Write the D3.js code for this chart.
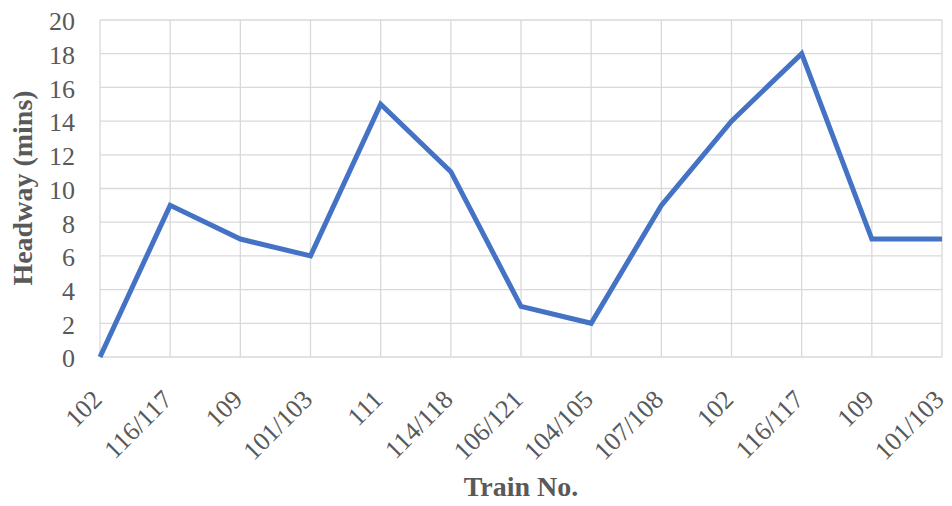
<!DOCTYPE html>
<html>
<head>
<meta charset="utf-8">
<script src="https://cdn.jsdelivr.net/npm/d3@7"></script>
<style>
  html, body { margin: 0; padding: 0; background: #fff; }
  svg { display: block; }
</style>
</head>
<body>
<svg id="chart" width="952" height="506"></svg>
<script>
// Train sequence and the headway before each train
const trains = ["102", "116/117", "109", "101/103", "111", "114/118", "106/121",
                "104/105", "107/108", "102", "116/117", "109", "101/103"];
const headways = [0, 9, 7, 6, 15, 11, 3, 2, 9, 14, 18, 7, 7];
const yTicks = [0, 2, 4, 6, 8, 10, 12, 14, 16, 18, 20];

const svg = d3.select("#chart");
const plotLeft = 100, plotRight = 942, plotTop = 20, plotBottom = 357;
const serif = "'Liberation Serif', 'Times New Roman', serif";

const idx = trains.map((_, i) => i);
const x = d3.scalePoint().domain(idx).range([plotLeft, plotRight]);
const y = d3.scaleLinear().domain([0, 20]).range([plotBottom, plotTop]);

// horizontal gridlines
svg.append("g")
  .selectAll("line")
  .data(yTicks)
  .join("line")
  .attr("x1", plotLeft).attr("x2", plotRight)
  .attr("y1", d => y(d)).attr("y2", d => y(d))
  .attr("stroke", "#d9d9d9").attr("stroke-width", 1.3);

// vertical gridlines at each train
svg.append("g")
  .selectAll("line")
  .data(idx)
  .join("line")
  .attr("x1", d => x(d)).attr("x2", d => x(d))
  .attr("y1", plotTop).attr("y2", plotBottom)
  .attr("stroke", "#d9d9d9").attr("stroke-width", 1.3);

// y axis labels
const yAxis = svg.append("g")
  .attr("transform", `translate(${plotLeft - 25},0)`)
  .call(d3.axisLeft(y).tickValues(yTicks).tickSize(0).tickPadding(0));
yAxis.select(".domain").remove();
yAxis.selectAll("text")
  .attr("font-family", serif).attr("font-size", 26).attr("fill", "#595959")
  .attr("dy", "0.38em");

// x axis labels, rotated
const xAxis = svg.append("g")
  .attr("transform", `translate(0,${plotBottom})`)
  .call(d3.axisBottom(x).tickFormat(i => trains[i]).tickSize(0).tickPadding(0));
xAxis.select(".domain").remove();
xAxis.selectAll("text")
  .attr("font-family", serif).attr("font-size", 26).attr("fill", "#595959")
  .attr("text-anchor", "end")
  .attr("dy", 0)
  .attr("transform", "translate(3,44) rotate(-45)");

// headway line
svg.append("path")
  .datum(idx)
  .attr("fill", "none")
  .attr("stroke", "#4472c4")
  .attr("stroke-width", 5)
  .attr("stroke-linejoin", "miter")
  .attr("d", d3.line().x(i => x(i)).y(i => y(headways[i])));

// axis titles
svg.append("text")
  .attr("transform", `translate(32,188) rotate(-90)`)
  .attr("text-anchor", "middle")
  .attr("font-family", serif).attr("font-size", 28).attr("font-weight", "bold")
  .attr("fill", "#595959")
  .text("Headway (mins)");

svg.append("text")
  .attr("x", (plotLeft + plotRight) / 2).attr("y", 496)
  .attr("text-anchor", "middle")
  .attr("font-family", serif).attr("font-size", 28).attr("font-weight", "bold")
  .attr("fill", "#595959")
  .text("Train No.");
</script>
</body>
</html>
